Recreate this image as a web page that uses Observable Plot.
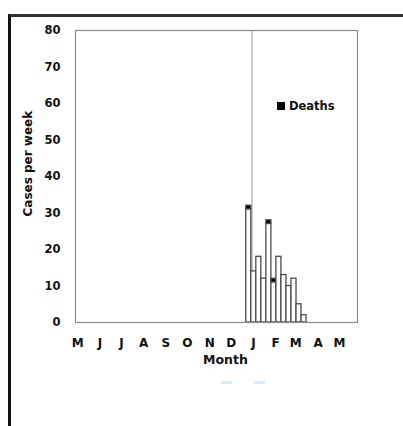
<!DOCTYPE html>
<html>
<head>
<meta charset="utf-8">
<script src="https://cdn.jsdelivr.net/npm/d3@7"></script>
<script src="https://cdn.jsdelivr.net/npm/@observablehq/plot@0.6"></script>
<style>
  html, body { margin: 0; padding: 0; background: #fff; width: 403px; height: 426px; overflow: hidden; }
  #wrap { position: relative; width: 403px; height: 426px; }
  #border { position: absolute; left: 8px; top: 14px; width: 420px; height: 440px; border-left: 3px solid #111; border-top: 3px solid #333; }
  #chart { position: absolute; left: 0; top: 0; }
  #legend { position: absolute; left: 277px; top: 99px; font: bold 11.5px "DejaVu Sans", sans-serif; color: #111; display: flex; align-items: center; }
  #legend .sw { width: 8px; height: 8px; background: #000; margin-right: 4px; }
  .blue { position: absolute; top: 381px; height: 3px; width: 11px; background: #d6ecfa; }
</style>
</head>
<body>
<div id="wrap">
  <div id="border"></div>
  <div id="chart"></div>
  <div id="legend"><div class="sw"></div><span>Deaths</span></div>
  <div class="blue" style="left:221px"></div>
  <div class="blue" style="left:254px"></div>
</div>
<script>
// Week start dates (weekly bars)
const weekStarts = ["2012-12-22","2012-12-29","2013-01-05","2013-01-12","2013-01-19","2013-01-26",
                    "2013-02-02","2013-02-09","2013-02-16","2013-02-23","2013-03-02","2013-03-09"];
// Non-fatal cases per week and deaths per week (stacked on top)
const cases  = [31, 14, 18, 12, 27, 11, 18, 13, 10, 12, 5, 2];
const deaths = [1, 0, 0, 0, 1, 1, 0, 0, 0, 0, 0, 0];
// Month tick labels
const monthStarts = ["2012-05-01","2012-06-01","2012-07-01","2012-08-01","2012-09-01","2012-10-01",
                     "2012-11-01","2012-12-01","2013-01-01","2013-02-01","2013-03-01","2013-04-01","2013-05-01"];
const monthLabels = ["M","J","J","A","S","O","N","D","J","F","M","A","M"];
const yTicks = [0, 10, 20, 30, 40, 50, 60, 70, 80];
const xDomain = ["2012-04-28", "2013-05-26"];
const markerDate = ["2012-12-30"];

const parse = d3.utcParse("%Y-%m-%d");
const rows = [];
weekStarts.forEach((w, i) => {
  const x1 = parse(w), x2 = d3.utcDay.offset(x1, 7);
  rows.push({x1, x2, value: cases[i], type: "Cases"});
  rows.push({x1, x2, value: deaths[i], type: "Deaths"});
});
const tickDates = monthStarts.map(parse);
const labelOf = new Map(tickDates.map((d, i) => [+d, monthLabels[i]]));

const font = "DejaVu Sans, sans-serif";
const chart = Plot.plot({
  width: 403,
  height: 426,
  marginLeft: 75,
  marginRight: 46,
  marginTop: 30,
  marginBottom: 104,
  style: {fontFamily: font, fontWeight: "bold", color: "#111", background: "transparent"},
  x: {type: "utc", domain: xDomain.map(parse)},
  y: {domain: [0, 80]},
  color: {domain: ["Cases", "Deaths"], range: ["#fff", "#000"]},
  marks: [
    Plot.ruleX(markerDate.map(parse), {stroke: "#cccccc", strokeWidth: 2}),
    Plot.rectY(rows, {x1: "x1", x2: "x2", y: "value", fill: "type", stroke: "#4a4a4a", strokeWidth: 1.3, inset: 0}),
    Plot.frame({stroke: "#8a8a8a", strokeWidth: 1.2}),
    Plot.axisY(yTicks, {tickSize: 0, tickPadding: 15, fontSize: 11.5, label: null}),
    Plot.axisX(tickDates, {tickSize: 0, tickPadding: 16, fontSize: 12, label: null, tickFormat: d => labelOf.get(+d)}),
    Plot.text(["Cases per week"], {frameAnchor: "left", rotate: -90, dx: -47, dy: 40, fontSize: 12, fontWeight: "bold"}),
    Plot.text(["Month"], {frameAnchor: "bottom", dx: 9, dy: 41, fontSize: 12.5, fontWeight: "bold"})
  ]
});
document.getElementById("chart").appendChild(chart);
</script>
</body>
</html>
